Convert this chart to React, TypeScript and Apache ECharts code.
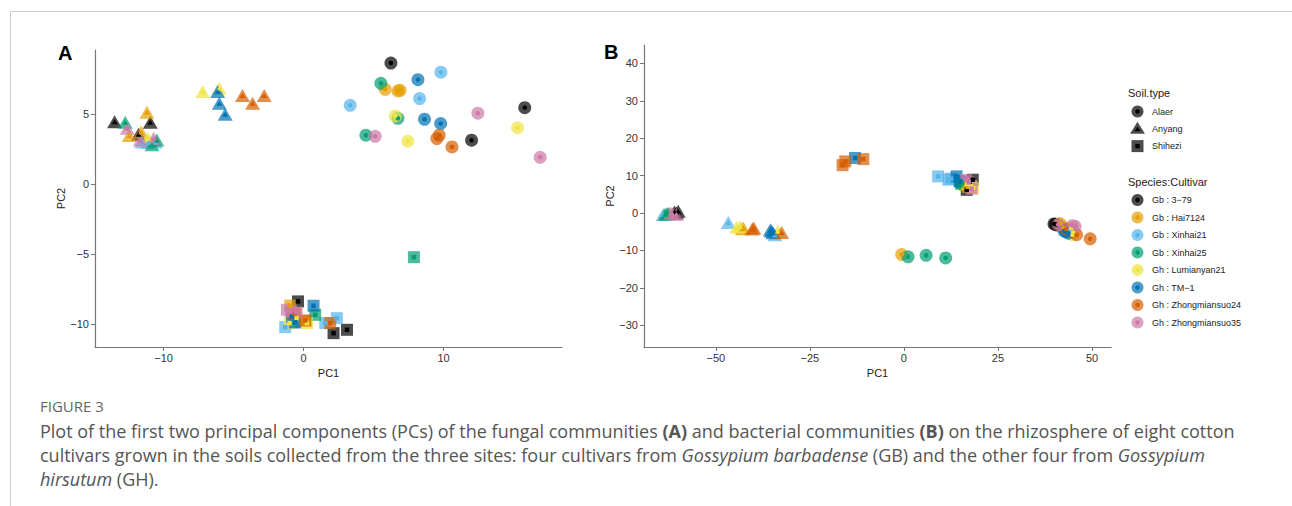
import React, { useEffect, useRef } from 'react';
import * as echarts from 'echarts';

const cultivars = [
  'Gb : 3\u221279',
  'Gb : Hai7124',
  'Gb : Xinhai21',
  'Gb : Xinhai25',
  'Gh : Lumianyan21',
  'Gh : TM\u22121',
  'Gh : Zhongmiansuo24',
  'Gh : Zhongmiansuo35',
];
const cultivarColors = ['#000000', '#E69F00', '#56B4E9', '#009E73', '#F0E442', '#0072B2', '#D55E00', '#CC79A7'];
const soilTypes = ['Alaer', 'Anyang', 'Shihezi'];

const fungalTicksX = [-10, 0, 10];
const fungalTicksY = [-10, -5, 0, 5];
const bacterialTicksX = [-50, -25, 0, 25, 50];
const bacterialTicksY = [-30, -20, -10, 0, 10, 20, 30, 40];

// Panel A (fungal) – one list per cultivar, in cultivar order
const fungalAlaer = [
  [[6.24, 8.64], [15.8, 5.45], [12.0, 3.12]],
  [[5.83, 6.76], [6.9, 6.69], [6.74, 6.64]],
  [[3.33, 5.62], [9.81, 7.98], [8.29, 6.1]],
  [[5.52, 7.19], [6.74, 4.69], [4.45, 3.48]],
  [[6.55, 4.86], [7.45, 3.05], [15.29, 4.02]],
  [[8.17, 7.45], [8.64, 4.62], [9.79, 4.31]],
  [[9.52, 3.24], [9.69, 3.48], [10.6, 2.64]],
  [[5.12, 3.4], [12.45, 5.05], [16.9, 1.9]],
];
const fungalAnyang = [
  [[-13.5, 4.45], [-10.95, 4.4], [-11.79, 3.55]],
  [[-11.19, 5.12], [-12.45, 3.45], [-11.6, 3.7]],
  [[-11.55, 3.0], [-11.1, 2.95], [-10.6, 3.0]],
  [[-12.74, 4.4], [-10.48, 3.14], [-10.83, 2.8]],
  [[-7.21, 6.6], [-6.02, 6.83], [-11.12, 3.26]],
  [[-6.14, 6.6], [-6.02, 5.76], [-5.6, 4.98]],
  [[-4.36, 6.31], [-3.64, 5.76], [-2.81, 6.31]],
  [[-12.6, 3.98], [-11.67, 3.14], [-10.71, 3.26]],
];
const fungalShihezi = [
  [[-0.4, -8.4], [2.14, -10.67], [3.1, -10.43]],
  [[-0.95, -8.7], [0.2, -9.8], [-0.6, -9.3]],
  [[-1.31, -10.24], [1.55, -9.95], [2.38, -9.6]],
  [[7.88, -5.24], [0.83, -9.36], [-0.7, -9.9]],
  [[-1.0, -9.95], [0.24, -9.95], [-0.5, -9.6]],
  [[0.71, -8.71], [-0.83, -9.48], [-0.6, -9.9]],
  [[-0.64, -9.29], [0.12, -9.76], [1.9, -9.95]],
  [[-1.19, -9.0], [-0.9, -9.1], [-0.5, -9.2]],
];

// Panel B (bacterial)
const bacterialAlaer = [
  [[39.9, -2.9], [40.3, -3.0], [40.8, -3.2]],
  [[-0.6, -11.1], [41.5, -2.8], [42.5, -4.0]],
  [[42.8, -4.6], [43.5, -4.5], [44.0, -4.8]],
  [[1.1, -11.7], [5.9, -11.3], [11.1, -12.0]],
  [[44.8, -5.8], [45.0, -5.2], [44.5, -4.0]],
  [[43.0, -5.0], [43.7, -5.4], [42.6, -4.8]],
  [[49.5, -6.9], [43.1, -4.3], [45.9, -5.8]],
  [[41.0, -3.1], [45.5, -3.6], [44.8, -3.4]],
];
const bacterialAnyang = [
  [[-61.0, 0.3], [-60.0, 0.5], [-60.5, 0.0]],
  [[-42.7, -4.0], [-43.0, -4.2], [-62.8, -0.2]],
  [[-64.0, -0.4], [-46.7, -2.5], [-34.3, -5.8]],
  [[-63.5, -0.3], [-63.0, -0.2], [-62.5, -0.1]],
  [[-43.6, -3.6], [-44.5, -3.8], [-33.5, -4.9]],
  [[-35.2, -4.9], [-34.8, -5.3], [-35.5, -4.5]],
  [[-39.9, -4.0], [-32.5, -5.2], [-40.3, -4.3]],
  [[-61.5, -0.2], [-60.5, -0.3], [-62.0, 0.0]],
];
const bacterialShihezi = [
  [[16.7, 6.2], [18.3, 8.9], [17.5, 7.5]],
  [[15.8, 8.0], [17.0, 7.0], [16.2, 7.5]],
  [[9.1, 9.8], [11.8, 8.9], [12.5, 9.2]],
  [[15.2, 7.8], [15.5, 8.2], [14.8, 8.6]],
  [[18.4, 6.7], [17.8, 7.2], [16.8, 7.8]],
  [[-13.0, 14.7], [14.0, 9.8], [14.9, 8.4]],
  [[-16.3, 12.8], [-15.6, 13.8], [-10.8, 14.4]],
  [[16.5, 8.8], [17.2, 8.2], [18.0, 6.5]],
];

const captionLines = [
  'Plot of the first two principal components (PCs) of the fungal communities {b|(A)} and bacterial communities {b|(B)} on the rhizosphere of eight cotton',
  'cultivars grown in the soils collected from the three sites: four cultivars from {i|Gossypium barbadense} (GB) and the other four from {i|Gossypium}',
  '{i|hirsutum} (GH).',
];

const FONT = '"Liberation Sans", Arial, sans-serif';
const CAP_FONT = '"Open Sans", "Noto Sans", sans-serif';
const CAP_SIZE = 18;

const symbolOuter: Record<string, any> = { circle: 13, triangle: [15, 13], rect: 12 };
const symbolInner: Record<string, any> = { circle: 4.5, triangle: [6, 5], rect: 4.5 };
const soilSymbols = ['circle', 'triangle', 'rect'];

function fmt(v: number) {
  return String(v).replace('-', '\u2212');
}

function makeXAxis(gridIndex: number, min: number, max: number, ticks: number[]) {
  return {
    type: 'value', gridIndex, min, max,
    name: 'PC1', nameLocation: 'middle', nameGap: 17,
    nameTextStyle: { color: '#222', fontSize: 11, fontFamily: FONT },
    axisLine: { show: true, onZero: false, lineStyle: { color: '#777', width: 1.2 } },
    axisTick: { show: true, length: 4, customValues: ticks, lineStyle: { color: '#777', width: 1 } },
    axisLabel: { customValues: ticks, formatter: fmt, color: '#333', fontSize: 11, fontFamily: FONT, margin: 5 },
    splitLine: { show: false },
  };
}
function makeYAxis(gridIndex: number, min: number, max: number, ticks: number[], gap: number) {
  return {
    type: 'value', gridIndex, min, max,
    name: 'PC2', nameLocation: 'middle', nameGap: gap,
    nameTextStyle: { color: '#222', fontSize: 11, fontFamily: FONT },
    axisLine: { show: true, onZero: false, lineStyle: { color: '#777', width: 1.2 } },
    axisTick: { show: true, length: 4, customValues: ticks, lineStyle: { color: '#777', width: 1 } },
    axisLabel: { customValues: ticks, formatter: fmt, color: '#333', fontSize: 11, fontFamily: FONT, margin: 6 },
    splitLine: { show: false },
  };
}

function buildSeries() {
  const panels = [
    [fungalAlaer, fungalAnyang, fungalShihezi],
    [bacterialAlaer, bacterialAnyang, bacterialShihezi],
  ];
  const outer: any[] = [];
  const inner: any[] = [];
  panels.forEach((soils, p) => {
    soils.forEach((groups, s) => {
      const sym = soilSymbols[s];
      groups.forEach((pts, c) => {
        const base = {
          type: 'scatter', xAxisIndex: p, yAxisIndex: p, symbol: sym,
          name: soilTypes[s] + ' ' + cultivars[c], data: pts, silent: true,
        };
        outer.push({ ...base, symbolSize: symbolOuter[sym], itemStyle: { color: cultivarColors[c], opacity: 0.7 } });
        inner.push({ ...base, symbolSize: symbolInner[sym], itemStyle: { color: cultivarColors[c], opacity: 1 } });
      });
    });
  });
  return [...outer, ...inner];
}

function legendKey(shape: string, cx: number, cy: number, color: string): any[] {
  if (shape === 'circle') {
    return [
      { type: 'circle', shape: { cx, cy, r: 6 }, style: { fill: color, opacity: 0.7 } },
      { type: 'circle', shape: { cx, cy, r: 2.2 }, style: { fill: color } },
    ];
  }
  if (shape === 'triangle') {
    return [
      { type: 'polygon', shape: { points: [[cx, cy - 7], [cx - 7.5, cy + 5], [cx + 7.5, cy + 5]] }, style: { fill: color, opacity: 0.7 } },
      { type: 'polygon', shape: { points: [[cx, cy - 2], [cx - 3, cy + 2.5], [cx + 3, cy + 2.5]] }, style: { fill: color } },
    ];
  }
  return [
    { type: 'rect', shape: { x: cx - 6, y: cy - 6, width: 12, height: 12 }, style: { fill: color, opacity: 0.7 } },
    { type: 'rect', shape: { x: cx - 2.2, y: cy - 2.2, width: 4.4, height: 4.4 }, style: { fill: color } },
  ];
}

function txt(x: number, y: number, text: string, size: number, extra: any = {}) {
  return {
    type: 'text', x, y,
    style: {
      text, fontSize: size, fontFamily: FONT, fill: '#222',
      align: 'left', verticalAlign: 'middle', textAlign: 'left', textVerticalAlign: 'middle',
      ...extra,
    },
  };
}

function buildGraphics() {
  const g: any[] = [];
  // border
  g.push({ type: 'line', shape: { x1: 10.5, y1: 11.5, x2: 1292, y2: 11.5 }, style: { stroke: '#cfcfcf', lineWidth: 1 } });
  g.push({ type: 'line', shape: { x1: 10.5, y1: 11.5, x2: 10.5, y2: 506 }, style: { stroke: '#cfcfcf', lineWidth: 1 } });
  // panel labels
  g.push(txt(58, 53, 'A', 20, { fontWeight: 'bold', fill: '#000' }));
  g.push(txt(604, 52, 'B', 20, { fontWeight: 'bold', fill: '#000' }));
  // legend: soil type
  g.push(txt(1128, 92.5, 'Soil.type', 11));
  soilSymbols.forEach((sym, i) => {
    const cy = 111.5 + i * 17.3;
    g.push(...legendKey(sym, 1137.5, cy, '#000'));
    g.push(txt(1152, cy, soilTypes[i], 9));
  });
  // legend: cultivar
  g.push(txt(1128, 181.5, 'Species:Cultivar', 11));
  cultivars.forEach((name, i) => {
    const cy = 200 + i * 17.5;
    g.push(...legendKey('circle', 1137.5, cy, cultivarColors[i]));
    g.push(txt(1152, cy, name, 9));
  });
  // caption
  g.push({
    type: 'text', x: 40, y: 406,
    style: { text: 'FIGURE 3', fontSize: 15, fontFamily: CAP_FONT, fill: '#666', align: 'left', verticalAlign: 'middle', textAlign: 'left', textVerticalAlign: 'middle' },
  });
  const rich = {
    b: { fontWeight: 'bold', fontSize: CAP_SIZE, fontFamily: CAP_FONT, fill: '#555', color: '#555' },
    i: { fontStyle: 'italic', fontSize: CAP_SIZE, fontFamily: CAP_FONT, fill: '#555', color: '#555' },
  };
  captionLines.forEach((line, i) => {
    g.push({
      type: 'text', x: 40, y: 431 + i * 24,
      style: {
        text: line, fontSize: CAP_SIZE, fontFamily: CAP_FONT, fill: '#555', rich,
        align: 'left', verticalAlign: 'middle', textAlign: 'left', textVerticalAlign: 'middle',
      },
    });
  });
  return g;
}

export default function App() {
  const ref = useRef<HTMLDivElement>(null);
  useEffect(() => {
    if (!ref.current) return;
    const chart = echarts.init(ref.current, null, { renderer: 'svg' });
    chart.setOption({
      animation: false,
      backgroundColor: '#ffffff',
      textStyle: { fontFamily: FONT },
      grid: [
        { left: 95, top: 50, width: 467, height: 297 },
        { left: 644, top: 45, width: 467, height: 302 },
      ],
      xAxis: [
        makeXAxis(0, -14.9, 18.46, fungalTicksX),
        makeXAxis(1, -69.1, 55.05, bacterialTicksX),
      ],
      yAxis: [
        makeYAxis(0, -11.66, 9.57, fungalTicksY, 27),
        makeYAxis(1, -35.8, 44.9, bacterialTicksY, 25),
      ],
      series: buildSeries(),
      graphic: buildGraphics(),
    });
    return () => chart.dispose();
  }, []);
  return (
    <div style={{ position: 'absolute', left: 0, top: 0, width: 1292, height: 506, background: '#fff' }}>
      <div ref={ref} style={{ width: 1292, height: 506 }} />
    </div>
  );
}
